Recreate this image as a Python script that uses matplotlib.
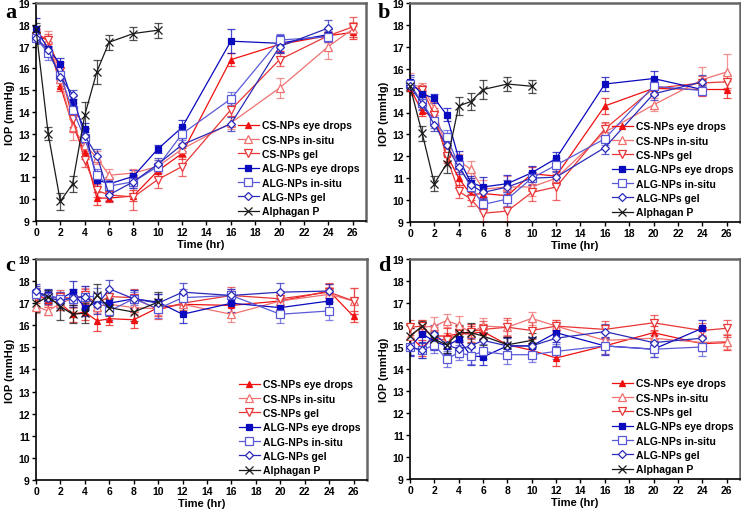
import matplotlib
matplotlib.use("Agg")
import matplotlib.pyplot as plt
import numpy as np

plt.rcParams['font.family'] = ['Liberation Sans', 'DejaVu Sans']

t_full = [0, 1, 2, 3, 4, 5, 6, 8, 10, 12, 16, 20, 24, 26]
t_alg = [0, 1, 2, 3, 4, 5, 6, 8, 10, 12, 16, 20, 24]
t_alph = [0, 1, 2, 3, 4, 5, 6, 8, 10]

labels = ["CS-NPs eye drops", "CS-NPs in-situ", "CS-NPs gel",
          "ALG-NPs eye drops", "ALG-NPs in-situ", "ALG-NPs gel", "Alphagan P"]
panel_letters = ["a", "b", "c", "d"]

# ---------------- panel a ----------------
a_cs_drops = [17.6, 17.3, 15.2, 13.4, 12.15, 10.05, 10.05, 10.15, 11.3, 12.1, 16.4, 17.1, 17.5, 17.65]
a_cs_insitu = [17.5, 17.3, 15.5, 13.3, 12.5, 11.9, 11.1, 11.2, 11.5, 12.3, 13.5, 15.1, 17.0, 17.8]
a_cs_gel = [17.5, 17.3, 15.9, 13.7, 11.8, 10.4, 10.2, 10.1, 10.9, 11.5, 14.1, 16.4, 17.5, 17.9]
a_alg_drops = [17.8, 16.9, 16.2, 14.45, 13.2, 10.9, 10.7, 11.05, 12.3, 13.3, 17.25, 17.15, 17.55]
a_alg_insitu = [17.4, 16.7, 15.7, 14.1, 12.8, 11.1, 10.6, 10.8, 11.5, 13.0, 14.6, 17.3, 17.45]
a_alg_gel = [17.4, 16.85, 15.6, 14.8, 12.9, 12.0, 10.2, 10.8, 11.6, 12.5, 13.45, 17.0, 17.85]
a_alph = [17.8, 13.0, 9.9, 10.7, 13.85, 15.85, 17.2, 17.6, 17.75]

a_cs_drops_err = [0.2, 0.2, 0.25, 0.3, 0.3, 0.3, 0.2, 0.25, 0.3, 0.25, 0.3, 0.3, 0.3, 0.3]
a_cs_insitu_err = [0.2, 0.4, 0.3, 0.6, 0.3, 0.3, 0.3, 0.2, 0.3, 0.3, 0.3, 0.45, 0.55, 0.35]
a_cs_gel_err = [0.3, 0.3, 0.4, 0.4, 0.3, 0.3, 0.3, 0.6, 0.4, 0.45, 0.3, 0.3, 0.3, 0.45]
a_alg_drops_err = [0.5, 0.3, 0.3, 0.3, 0.3, 0.3, 0.3, 0.3, 0.2, 0.35, 0.55, 0.4, 0.25]
a_alg_insitu_err = [0.3, 0.3, 0.3, 0.3, 0.3, 0.3, 0.3, 0.3, 0.3, 0.3, 0.3, 0.3, 0.25]
a_alg_gel_err = [0.25, 0.2, 0.25, 0.2, 0.3, 0.3, 0.3, 0.3, 0.3, 0.3, 0.3, 0.3, 0.35]
a_alph_err = [0.3, 0.3, 0.4, 0.35, 0.6, 0.55, 0.35, 0.3, 0.35]

# ---------------- panel b ----------------
b_cs_drops = [15.1, 14.05, 13.8, 12.1, 11.0, 10.25, 10.3, 10.2, 11.2, 11.1, 14.3, 15.1, 15.05, 15.05]
b_cs_insitu = [15.3, 15.15, 14.2, 12.3, 11.8, 11.4, 10.5, 10.6, 10.6, 11.0, 13.1, 14.35, 15.5, 15.85]
b_cs_gel = [15.2, 15.05, 13.9, 12.0, 10.4, 10.05, 9.4, 9.5, 10.35, 10.6, 13.25, 15.1, 15.35, 15.4]
b_alg_drops = [15.4, 14.85, 14.65, 13.9, 11.9, 10.8, 10.6, 10.75, 11.25, 11.9, 15.3, 15.55, 15.05]
b_alg_insitu = [15.3, 14.45, 13.6, 12.9, 11.6, 10.6, 9.8, 10.05, 11.0, 11.6, 12.8, 15.2, 15.0]
b_alg_gel = [15.2, 14.4, 13.45, 12.5, 11.5, 10.7, 10.35, 10.6, 11.0, 11.05, 12.4, 14.85, 15.4]
b_alph = [15.2, 13.05, 10.75, 11.65, 14.3, 14.5, 15.05, 15.3, 15.2]

b_cs_drops_err = [0.3, 0.2, 0.3, 0.3, 0.3, 0.25, 0.3, 0.3, 0.3, 0.3, 0.35, 0.3, 0.3, 0.4]
b_cs_insitu_err = [0.5, 0.2, 0.3, 0.3, 0.3, 0.4, 0.4, 0.5, 0.4, 0.3, 0.4, 0.3, 0.6, 0.8]
b_cs_gel_err = [0.3, 0.2, 0.3, 0.3, 0.3, 0.3, 0.4, 0.5, 0.4, 0.6, 0.3, 0.3, 0.3, 0.3]
b_alg_drops_err = [0.3, 0.3, 0.2, 0.3, 0.35, 0.3, 0.45, 0.4, 0.3, 0.3, 0.3, 0.35, 0.2]
b_alg_insitu_err = [0.3, 0.3, 0.3, 0.3, 0.3, 0.3, 0.3, 0.3, 0.3, 0.3, 0.3, 0.3, 0.2]
b_alg_gel_err = [0.3, 0.3, 0.3, 0.3, 0.3, 0.3, 0.3, 0.3, 0.3, 0.3, 0.3, 0.3, 0.3]
b_alph_err = [0.3, 0.35, 0.35, 0.4, 0.4, 0.4, 0.45, 0.3, 0.3]

# ---------------- panel c ----------------
c_cs_drops = [17.4, 17.15, 17.0, 16.5, 16.6, 16.2, 16.3, 16.25, 16.8, 16.95, 16.9, 17.1, 17.55, 16.4]
c_cs_insitu = [16.85, 16.65, 17.0, 17.2, 17.3, 16.85, 16.95, 16.8, 16.75, 16.95, 16.5, 17.1, 17.4, 17.1]
c_cs_gel = [17.3, 17.2, 17.3, 17.2, 17.35, 17.0, 17.3, 17.25, 16.7, 17.0, 17.35, 17.2, 17.5, 17.1]
c_alg_drops = [17.5, 17.35, 17.2, 17.5, 16.8, 17.05, 17.0, 17.2, 17.05, 16.5, 17.0, 16.8, 17.1]
c_alg_insitu = [17.4, 17.3, 17.2, 17.2, 17.3, 17.3, 16.65, 17.2, 16.75, 17.25, 17.35, 16.5, 16.65]
c_alg_gel = [17.55, 17.25, 17.1, 17.25, 17.3, 16.9, 17.65, 17.2, 17.0, 17.5, 17.35, 17.5, 17.55]
c_alph = [17.0, 17.3, 16.85, 16.5, 16.55, 17.35, 16.8, 16.6, 17.05]

c_cs_drops_err = [0.3, 0.3, 0.3, 0.35, 0.35, 0.45, 0.3, 0.35, 0.4, 0.35, 0.35, 0.35, 0.3, 0.25]
c_cs_insitu_err = [0.3, 0.2, 0.3, 0.4, 0.4, 0.3, 0.3, 0.3, 0.3, 0.35, 0.35, 0.35, 0.35, 0.6]
c_cs_gel_err = [0.3, 0.3, 0.3, 0.3, 0.3, 0.3, 0.3, 0.4, 0.4, 0.3, 0.4, 0.3, 0.4, 0.6]
c_alg_drops_err = [0.3, 0.3, 0.3, 0.5, 0.4, 0.4, 0.4, 0.4, 0.35, 0.4, 0.4, 0.4, 0.4]
c_alg_insitu_err = [0.3, 0.3, 0.3, 0.3, 0.5, 0.4, 0.4, 0.3, 0.4, 0.4, 0.3, 0.4, 0.4]
c_alg_gel_err = [0.3, 0.3, 0.3, 0.4, 0.5, 0.4, 0.4, 0.4, 0.4, 0.4, 0.3, 0.4, 0.3]
c_alph_err = [0.4, 0.3, 0.6, 0.4, 0.45, 0.5, 0.4, 0.4, 0.45]

# ---------------- panel d ----------------
d_cs_drops = [15.5, 14.95, 15.5, 15.5, 15.6, 15.6, 15.7, 15.1, 14.85, 14.5, 15.05, 15.65, 15.15, 15.2]
d_cs_insitu = [15.5, 15.9, 15.95, 16.2, 16.0, 15.65, 15.95, 15.9, 16.3, 15.95, 15.3, 15.4, 15.2, 15.25]
d_cs_gel = [15.9, 15.95, 15.4, 15.3, 15.6, 15.7, 15.8, 15.9, 15.75, 15.95, 15.8, 16.1, 15.75, 15.85]
d_alg_drops = [15.0, 15.6, 15.25, 15.05, 15.35, 14.6, 14.55, 15.05, 15.05, 15.65, 15.05, 14.9, 15.85]
d_alg_insitu = [15.0, 14.85, 15.1, 14.45, 14.75, 14.6, 14.8, 14.65, 14.65, 14.8, 15.05, 14.9, 15.0]
d_alg_gel = [15.0, 14.85, 15.6, 15.1, 14.9, 15.05, 15.3, 15.05, 15.05, 15.4, 15.7, 15.2, 15.4]
d_alph = [15.5, 15.95, 15.35, 15.1, 15.65, 15.65, 15.5, 15.1, 15.3]

d_cs_drops_err = [0.35, 0.35, 0.4, 0.35, 0.35, 0.35, 0.35, 0.35, 0.35, 0.35, 0.35, 0.3, 0.35, 0.35]
d_cs_insitu_err = [0.35, 0.35, 0.4, 0.3, 0.4, 0.4, 0.35, 0.35, 0.3, 0.3, 0.35, 0.35, 0.35, 0.35]
d_cs_gel_err = [0.35, 0.3, 0.35, 0.35, 0.35, 0.35, 0.4, 0.4, 0.4, 0.3, 0.4, 0.35, 0.35, 0.4]
d_alg_drops_err = [0.4, 0.35, 0.4, 0.35, 0.35, 0.4, 0.35, 0.4, 0.4, 0.4, 0.4, 0.35, 0.4]
d_alg_insitu_err = [0.35, 0.35, 0.35, 0.35, 0.35, 0.35, 0.35, 0.4, 0.35, 0.35, 0.35, 0.35, 0.4]
d_alg_gel_err = [0.35, 0.35, 0.4, 0.35, 0.35, 0.35, 0.35, 0.35, 0.35, 0.35, 0.35, 0.35, 0.35]
d_alph_err = [0.35, 0.25, 0.35, 0.35, 0.35, 0.45, 0.4, 0.35, 0.35]

panels = [
    (a_cs_drops, a_cs_insitu, a_cs_gel, a_alg_drops, a_alg_insitu, a_alg_gel, a_alph),
    (b_cs_drops, b_cs_insitu, b_cs_gel, b_alg_drops, b_alg_insitu, b_alg_gel, b_alph),
    (c_cs_drops, c_cs_insitu, c_cs_gel, c_alg_drops, c_alg_insitu, c_alg_gel, c_alph),
    (d_cs_drops, d_cs_insitu, d_cs_gel, d_alg_drops, d_alg_insitu, d_alg_gel, d_alph),
]
panel_errs = [
    (a_cs_drops_err, a_cs_insitu_err, a_cs_gel_err, a_alg_drops_err, a_alg_insitu_err, a_alg_gel_err, a_alph_err),
    (b_cs_drops_err, b_cs_insitu_err, b_cs_gel_err, b_alg_drops_err, b_alg_insitu_err, b_alg_gel_err, b_alph_err),
    (c_cs_drops_err, c_cs_insitu_err, c_cs_gel_err, c_alg_drops_err, c_alg_insitu_err, c_alg_gel_err, c_alph_err),
    (d_cs_drops_err, d_cs_insitu_err, d_cs_gel_err, d_alg_drops_err, d_alg_insitu_err, d_alg_gel_err, d_alph_err),
]
times = [t_full, t_full, t_full, t_alg, t_alg, t_alg, t_alph]

styles = [
    dict(color='#F01010', marker='^', mfc='#F01010', ms=5.0),
    dict(color='#F07070', marker='^', mfc='white', ms=5.5),
    dict(color='#E83535', marker='v', mfc='white', ms=5.5),
    dict(color='#0A0ABE', marker='s', mfc='#0A0ABE', ms=5.0),
    dict(color='#5A5AD8', marker='s', mfc='white', ms=5.5),
    dict(color='#2A2AB8', marker='D', mfc='white', ms=4.2),
    dict(color='#1A1A1A', marker='x', mfc='none', ms=5.5),
]

W, H = 741, 510
fig = plt.figure(figsize=(W / 100, H / 100), dpi=100)

rects = [
    (36, 4, 366, 222),
    (410, 4, 740, 223),
    (36, 260, 367, 481),
    (410, 260, 740, 480),
]
letter_pos = [(5, 3), (378, 3), (5, 256), (378, 256)]

for pi, (x0, y0, x1, y1) in enumerate(rects):
    ax = fig.add_axes([x0 / W, 1 - y1 / H, (x1 - x0) / W, (y1 - y0) / H])
    data = panels[pi]
    errs = panel_errs[pi]
    for si in range(7):
        st = styles[si]
        ax.errorbar(times[si], data[si], yerr=errs[si], fmt='none',
                    ecolor=st['color'], alpha=0.75, elinewidth=0.9,
                    capsize=3, capthick=0.9, zorder=2)
        ax.plot(times[si], data[si], color=st['color'], lw=0.9,
                marker=st['marker'], mfc=st['mfc'], mec=st['color'],
                ms=st['ms'], mew=0.9, label=labels[si], zorder=3,
                clip_on=False)
    ax.set_xlim(0, 27.1)
    ax.set_ylim(9, 19)
    ax.set_xticks(list(range(0, 27, 2)))
    ax.set_yticks(list(range(9, 20)))
    ax.tick_params(direction='out', length=3, width=1.0, labelsize=7.5, pad=1.5)
    for lab in ax.get_xticklabels() + ax.get_yticklabels():
        lab.set_fontweight('bold')
    for side in ['left', 'bottom']:
        ax.spines[side].set_linewidth(1.2)
        ax.spines[side].set_color('black')
    for side in ['top', 'right']:
        ax.spines[side].set_linewidth(1.8)
        ax.spines[side].set_color('#666666')
    ax.set_xlabel('Time (hr)', fontsize=8, fontweight='bold', labelpad=1)
    ax.set_ylabel('IOP (mmHg)', fontsize=8, fontweight='bold', labelpad=2)
    ax.legend(loc='lower right', bbox_to_anchor=(1.0, -0.01), frameon=False,
              prop={'weight': 'bold', 'size': 7.5}, handlelength=2.0,
              handletextpad=0.3, labelspacing=0.42, borderaxespad=0.25)
    lx, ly = letter_pos[pi]
    fig.text(lx / W, 1 - ly / H, panel_letters[pi], fontsize=16, fontweight='bold',
             family='Liberation Serif', va='top', ha='left')

fig.savefig('out.png', dpi=100)
